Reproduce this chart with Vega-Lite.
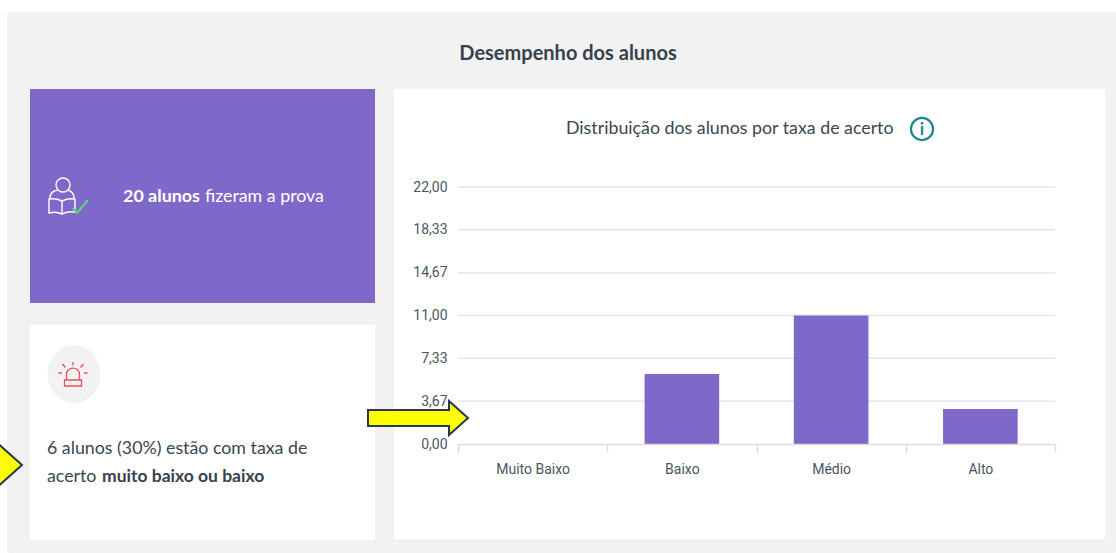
{
"$schema":"https://vega.github.io/schema/vega-lite/v6.json",
"width":1116,"height":553,"padding":0,"autosize":"none","background":"#ffffff",
"config":{"view":{"stroke":null},"text":{"font":"Lato","align":"left","baseline":"alphabetic"}},
"datasets":{
"alunos":[{"faixa":"Muito Baixo","alunos":0},{"faixa":"Baixo","alunos":6},{"faixa":"Médio","alunos":11},{"faixa":"Alto","alunos":3}],
"ticks":[{"tick":3.6667},{"tick":7.3333},{"tick":11},{"tick":14.6667},{"tick":18.3333},{"tick":22}],
"one":[{"item":1}]
},
"data":{"name":"one"},
"layer":[
{"mark":{"type":"rect","x":7,"x2":1116,"y":12,"y2":553,"fill":"#f2f2f2","cornerRadius":2},"encoding":{}},
{"mark":{"type":"rect","x":30,"x2":375,"y":89,"y2":303,"fill":"#7e69cb"},"encoding":{}},
{"mark":{"type":"rect","x":30,"x2":375,"y":325,"y2":540,"fill":"#ffffff"},"encoding":{}},
{"mark":{"type":"rect","x":394,"x2":1105,"y":89,"y2":539,"fill":"#ffffff"},"encoding":{}},
{"mark":{"type":"text","x":568,"y":60,"align":"center","text":"Desempenho dos alunos","fontSize":20,"fontWeight":"bold","color":"#36424e"},"encoding":{}},
{"mark":{"type":"text","x":566,"y":134,"text":"Distribuição dos alunos por taxa de acerto","fontSize":17.8,"color":"#3a4653"},"encoding":{}},
{"mark":{"type":"point","x":922,"y":129,"shape":"M.92,0 A.92,.92 0 1 1 -.92,0 A.92,.92 0 1 1 .92,0 Z","size":576,"filled":false,"stroke":"#16878f","strokeWidth":2.2,"opacity":1},"encoding":{}},
{"mark":{"type":"text","x":922,"y":135,"align":"center","text":"i","fontSize":17,"fontWeight":"bold","color":"#16878f"},"encoding":{}},
{"mark":{"type":"text","x":123,"y":202,"text":"20 alunos","fontSize":17.9,"fontWeight":"bold","color":"#ffffff"},"encoding":{}},
{"mark":{"type":"text","x":205,"y":202,"text":"fizeram a prova","fontSize":17.8,"color":"#ffffff"},"encoding":{}},
{"mark":{"type":"point","x":62,"y":197,"shape":"M.4,-.6 A.35,.35 0 1 1 -.3,-.6 A.35,.35 0 1 1 .4,-.6 Z M-.6,.05 C-.6,-.2 -.4,-.32 -.2,-.35 M.3,-.35 C.45,-.3 .6,-.2 .6,.05 M-.65,.1 Q-.3,.05 0,.2 Q.3,.05 .65,.1 L.65,.75 Q.3,.7 0,.85 Q-.3,.7 -.65,.8 Z M0,.2 L0,.85","size":1600,"filled":false,"stroke":"#ffffff","strokeWidth":1.4,"opacity":1},"encoding":{}},
{"mark":{"type":"point","x":80,"y":207,"shape":"M-.7,.1 L-.3,.6 L.8,-.7","size":400,"filled":false,"stroke":"#5fd08a","strokeWidth":2.2,"opacity":1},"encoding":{}},
{"mark":{"type":"point","x":74,"y":374,"shape":"M.88,0 A.88,.97 0 1 1 -.88,0 A.88,.97 0 1 1 .88,0 Z","size":3600,"filled":true,"fill":"#f2f2f2","stroke":null,"opacity":1},"encoding":{}},
{"mark":{"type":"point","x":73,"y":375,"shape":"M-.65,.5 L-.65,-.05 C-.65,-.9 .65,-.9 .65,-.05 L.65,.5 M-.85,.5 L.85,.5 L.85,1.1 L-.85,1.1 Z M0,-1.3 L0,-.95 M-.75,-.75 L-1.05,-1.1 M.75,-.75 L1.05,-1.1 M-1.1,-.2 L-1.45,-.2 M1.1,-.2 L1.45,-.2","size":400,"filled":false,"stroke":"#e8505b","strokeWidth":1.3,"opacity":1},"encoding":{}},
{"mark":{"type":"text","x":47,"y":454,"text":"6 alunos (30%) estão com taxa de","fontSize":17.8,"color":"#3a4653"},"encoding":{}},
{"mark":{"type":"text","x":47,"y":482,"text":"acerto","fontSize":17.8,"color":"#3a4653"},"encoding":{}},
{"mark":{"type":"text","x":102,"y":482,"text":"muito baixo ou baixo","fontSize":17.5,"fontWeight":"bold","color":"#36424e"},"encoding":{}},
{"data":{"name":"ticks"},"mark":{"type":"rule","color":"#e6e6e6","strokeWidth":1.5},
 "encoding":{"y":{"field":"tick","type":"quantitative","scale":{"domain":[0,22],"range":[444,187],"nice":false},
  "axis":{"title":null,"orient":"left","offset":-458,"zindex":1,"domain":false,"ticks":false,"grid":false,"values":[0,3.6667,7.3333,11,14.6667,18.3333,22],"labelExpr":"replace(format(datum.value,'.2f'),'.',',')","labelFont":"Roboto","labelFontSize":14,"labelColor":"#4a5663","labelPadding":11}},
  "x":{"value":458},"x2":{"value":1055}}},
{"data":{"name":"alunos"},"mark":{"type":"bar","fill":"#7e69cb","width":{"band":0.5}},
 "encoding":{
 "x":{"field":"faixa","type":"nominal","sort":["Muito Baixo","Baixo","Médio","Alto"],
  "scale":{"range":[458,1055],"paddingInner":0,"paddingOuter":0},
  "axis":{"title":null,"orient":"bottom","offset":-109,"zindex":1,"domainColor":"#dddddd","domainWidth":1.5,"tickColor":"#dddddd","tickWidth":1.5,"tickSize":8,"tickBand":"extent","labelAngle":0,"labelFont":"Roboto","labelFontSize":14,"labelColor":"#4a5663","labelPadding":10}},
 "y":{"field":"alunos","type":"quantitative",
  "scale":{"domain":[0,22],"range":[444,187],"nice":false},
  "axis":{"title":null,"orient":"left","offset":-458,"zindex":1,"domain":false,"ticks":false,"grid":false,"values":[0,3.6667,7.3333,11,14.6667,18.3333,22],"labelExpr":"replace(format(datum.value,'.2f'),'.',',')","labelFont":"Roboto","labelFontSize":14,"labelColor":"#4a5663","labelPadding":11}}
 }},
{"mark":{"type":"point","x":418,"y":418,"shape":"M-1,-.16 L.62,-.16 L.62,-.34 L1,0 L.62,.34 L.62,.16 L-1,.16 Z","size":10000,"filled":true,"fill":"#ffff00","stroke":"#24365a","strokeWidth":2,"opacity":1},"encoding":{}},
{"mark":{"type":"point","x":-43,"y":465,"shape":"M-1,-.16 L.62,-.16 L.62,-.34 L1,0 L.62,.34 L.62,.16 L-1,.16 Z","size":16900,"filled":true,"fill":"#ffff00","stroke":"#24365a","strokeWidth":2,"opacity":1},"encoding":{}}
]
}
